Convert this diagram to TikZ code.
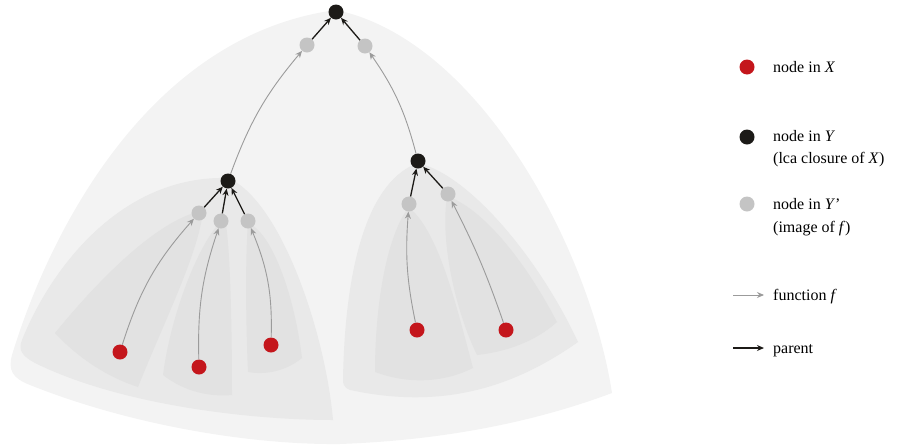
\documentclass[tikz,border=0pt]{standalone}
\usepackage{fontspec}
\setmainfont{Liberation Serif}
\usetikzlibrary{arrows.meta}
\definecolor{outerc}{HTML}{F3F3F3}
\definecolor{midc}{HTML}{E9E9E9}
\definecolor{innerc}{HTML}{E2E2E2}
\definecolor{redn}{HTML}{C4161C}
\definecolor{blackn}{HTML}{1C1A17}
\definecolor{grayn}{HTML}{C4C4C4}
\definecolor{fline}{HTML}{9B9B9B}
\begin{document}
\begin{tikzpicture}[x=1pt,y=-1pt,
  xn/.style={circle,fill=redn,inner sep=0pt,minimum size=15pt},
  yn/.style={circle,fill=blackn,inner sep=0pt,minimum size=15pt},
  ypn/.style={circle,fill=grayn,inner sep=0pt,minimum size=15pt},
  fn/.style={draw=fline,line width=0.9pt,-{Stealth[length=7pt,width=6pt]}},
  par/.style={draw=blackn,line width=1.3pt,-{Stealth[length=7pt,width=6pt]}},
  lab/.style={anchor=base west,font=\fontsize{16}{20}\selectfont,inner sep=0pt}]
\useasboundingbox (0,0) rectangle (900,445);
% regions
\fill[outerc] (336,10) .. controls (150,35) and (50,230) .. (12,355)
  .. controls (8,370) and (12,378) .. (30,385)
  .. controls (130,425) and (250,445) .. (340,444)
  .. controls (450,440) and (540,420) .. (612,393)
  .. controls (590,250) and (480,40) .. (336,10) -- cycle;
\fill[midc] (228,178) .. controls (120,175) and (50,270) .. (22,340)
  .. controls (18,350) and (22,356) .. (35,363)
  .. controls (120,405) and (250,420) .. (333,420)
  .. controls (325,330) and (280,200) .. (228,178) -- cycle;
\fill[midc] (418,163) .. controls (370,180) and (345,260) .. (343,380)
  .. controls (343,388) and (348,390) .. (355,391)
  .. controls (440,408) and (510,390) .. (578,342)
  .. controls (540,260) and (470,175) .. (418,163) -- cycle;
\fill[innerc] (197,212) .. controls (150,225) and (90,290) .. (55,333)
  .. controls (80,360) and (110,378) .. (138,387)
  .. controls (165,320) and (195,260) .. (202,218) -- cycle;
\fill[innerc] (220,222) .. controls (195,250) and (170,320) .. (163,375)
  .. controls (185,392) and (210,397) .. (232,395)
  .. controls (232,320) and (230,250) .. (226,225) -- cycle;
\fill[innerc] (248,222) .. controls (245,260) and (246,330) .. (248,372)
  .. controls (270,376) and (290,368) .. (302,358)
  .. controls (295,300) and (275,240) .. (252,225) -- cycle;
\fill[innerc] (408,208) .. controls (385,240) and (375,310) .. (375,372)
  .. controls (410,385) and (445,382) .. (473,368)
  .. controls (455,300) and (440,240) .. (414,212) -- cycle;
\fill[innerc] (447,197) .. controls (440,240) and (455,310) .. (477,355)
  .. controls (505,352) and (535,342) .. (557,322)
  .. controls (530,270) and (490,215) .. (452,198) -- cycle;
% nodes
\node[yn] (root) at (336,12) {};
\node[ypn] (g1) at (307,45) {};
\node[ypn] (g2) at (365,46) {};
\node[yn] (bl) at (228,181) {};
\node[yn] (br) at (418,161) {};
\node[ypn] (l1) at (199,213) {};
\node[ypn] (l2) at (221,221) {};
\node[ypn] (l3) at (248,221) {};
\node[ypn] (r1) at (409,204) {};
\node[ypn] (r2) at (448,194) {};
\node[xn] (x1) at (120,352) {};
\node[xn] (x2) at (199,367) {};
\node[xn] (x3) at (271,345) {};
\node[xn] (x4) at (417,330) {};
\node[xn] (x5) at (506,330) {};
% parent arrows
\draw[par] (g1) -- (root);
\draw[par] (g2) -- (root);
\draw[par] (l1) -- (bl);
\draw[par] (l2) -- (bl);
\draw[par] (l3) -- (bl);
\draw[par] (r1) -- (br);
\draw[par] (r2) -- (br);
% function arrows
\draw[fn] (bl) to[bend left=10] (g1);
\draw[fn] (br) to[bend right=10] (g2);
\draw[fn] (x1) to[bend left=12] (l1);
\draw[fn] (x2) to[bend left=10] (l2);
\draw[fn] (x3) to[bend right=12] (l3);
\draw[fn] (x4) to[bend left=8] (r1);
\draw[fn] (x5) to[bend right=4] (r2);
% legend
\node[xn] (lx) at (747,67) {};
\node[lab] (tx) at (773,72) {node in \textit{X}};
\node[yn] (ly) at (747,137) {};
\node[lab] (ty1) at (773,141) {node in \textit{Y}};
\node[lab] (ty2) at (773,163) {(lca closure of \textit{X})};
\node[ypn] (lyp) at (747,204) {};
\node[lab] (typ1) at (773,209) {node in \textit{Y}’};
\node[lab] (typ2) at (773,232) {(image of \textit{f})};
\coordinate (fa) at (733,295);
\coordinate (fb) at (764,295);
\draw[fn] (fa) -- (fb);
\node[lab] (tf) at (773,300) {function \textit{f}};
\coordinate (pa) at (733,348);
\coordinate (pb) at (764,348);
\draw[par] (pa) -- (pb);
\node[lab] (tp) at (773,353) {parent};
\end{tikzpicture}
\end{document}
